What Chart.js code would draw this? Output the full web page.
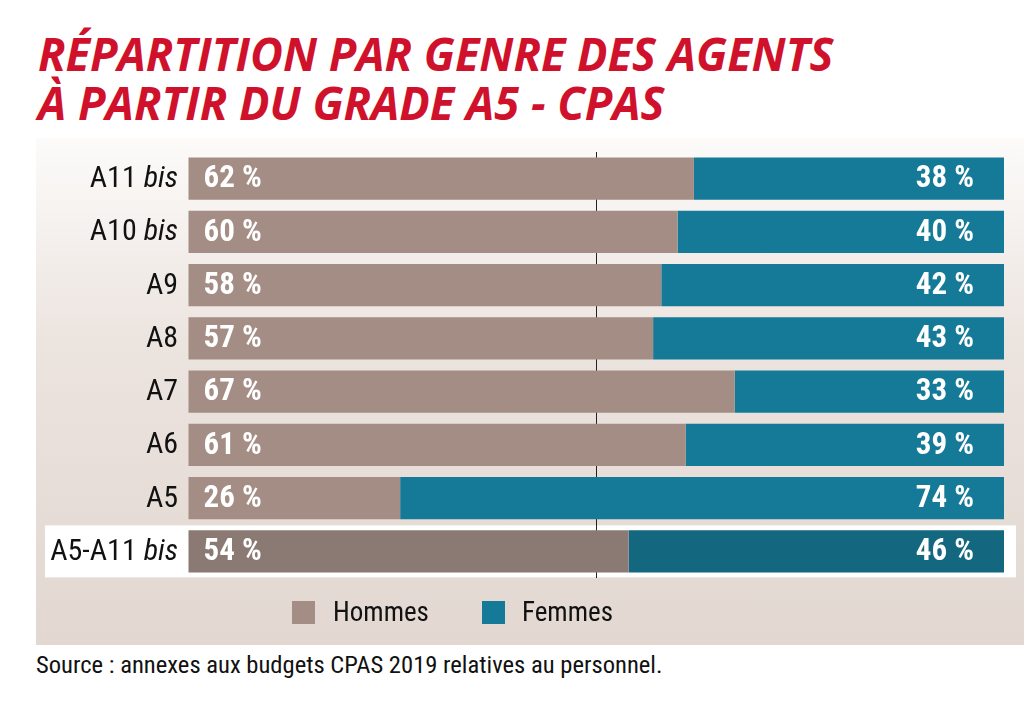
<!DOCTYPE html>
<html>
<head>
<meta charset="utf-8">
<script src="https://cdn.jsdelivr.net/npm/chart.js@4"></script>
<style>
  html, body { margin:0; padding:0; background:#fff; }
  body { width:1024px; height:725px; position:relative; overflow:hidden; }
  #title { position:absolute; left:38px; top:29px; color:#d0112b; font-family:'Open Sans', sans-serif; font-weight:bold; font-style:italic; font-size:47px; line-height:49px; transform:scaleX(0.96); transform-origin:left top; white-space:nowrap; }
  #panel { position:absolute; left:36px; top:138px; width:988px; height:507px; background:linear-gradient(#fcfbfa 0%, #ece4df 40%, #e2d7d1 100%); }
  #wrap { position:absolute; left:36px; top:138px; width:988px; height:507px; }
  .lg { position:absolute; font-family:'Liberation Sans Narrow','Roboto Condensed','Roboto',sans-serif; font-size:27px; color:#111; white-space:nowrap; }
  .sq { position:absolute; width:23px; height:23px; }
  #source { position:absolute; left:36px; top:650px; font-family:'Liberation Sans Narrow','Roboto Condensed','Roboto',sans-serif; font-size:24.6px; color:#111; white-space:nowrap; }
</style>
</head>
<body>
<div id="title">RÉPARTITION PAR GENRE DES AGENTS<br>À PARTIR DU GRADE A5 - CPAS</div>
<div id="panel"></div>
<div id="wrap"><canvas id="c" width="988" height="507"></canvas></div>
<div class="sq" style="left:292px;top:601px;background:#a38d84"></div>
<div class="lg" style="left:333px;top:596px">Hommes</div>
<div class="sq" style="left:482px;top:601px;background:#147a98"></div>
<div class="lg" style="left:522px;top:596px">Femmes</div>
<div id="source">Source : annexes aux budgets CPAS 2019 relatives au personnel.</div>
<script>
const categories = ['A11 bis','A10 bis','A9','A8','A7','A6','A5','A5-A11 bis'];
const hommes = [62,60,58,57,67,61,26,54];
const femmes = [38,40,42,43,33,39,74,46];
const seriesNames = ['Hommes','Femmes'];

const hColor = '#a38d84', hColorTotal = '#8b7a73';
const fColor = '#147a98', fColorTotal = '#13677f';
const last = categories.length - 1;

const labelFont = "'Liberation Sans Narrow','Roboto Condensed','Roboto',sans-serif";

const decor = {
  id:'decor',
  beforeDraw(chart){
    const ctx = chart.ctx, y = chart.scales.y;
    const yc = y.getPixelForValue(last);
    ctx.save();
    ctx.fillStyle = '#ffffff';
    ctx.fillRect(9, yc-26, 971, 52);
    ctx.restore();
  },
  afterDatasetsDraw(chart){
    const ctx = chart.ctx, y = chart.scales.y;
    ctx.save();
    ctx.textBaseline = 'middle';
    categories.forEach((cat, i) => {
      const yc = y.getPixelForValue(i) + 1;
      let xr = 142;
      ctx.fillStyle = '#111';
      ctx.textAlign = 'right';
      if (cat.endsWith(' bis')) {
        ctx.font = 'italic 30px ' + labelFont;
        ctx.fillText('bis', xr, yc);
        const w = ctx.measureText('bis').width;
        xr -= w + 7;
        ctx.font = '30px ' + labelFont;
        ctx.fillText(cat.slice(0, -4), xr, yc);
      } else {
        ctx.font = '30px ' + labelFont;
        ctx.fillText(cat, xr, yc);
      }
      const m0 = chart.getDatasetMeta(0).data[i];
      const m1 = chart.getDatasetMeta(1).data[i];
      ctx.fillStyle = '#fff';
      ctx.font = 'bold 31px ' + labelFont;
      ctx.textAlign = 'left';
      ctx.fillText(hommes[i] + ' %', m0.base + 15, yc);
      ctx.textAlign = 'right';
      ctx.fillText(femmes[i] + ' %', m1.x - 30, yc);
    });
    ctx.restore();
  }
};

new Chart(document.getElementById('c'), {
  type:'bar',
  data:{
    labels: categories,
    datasets:[
      { label: seriesNames[0], data: hommes, backgroundColor: hommes.map((v,i)=> i===last ? hColorTotal : hColor) },
      { label: seriesNames[1], data: femmes, backgroundColor: femmes.map((v,i)=> i===last ? fColorTotal : fColor) }
    ]
  },
  options:{
    indexAxis:'y',
    responsive:false,
    animation:false,
    devicePixelRatio:1,
    layout:{ padding:{ left:152, right:20, top:14, bottom:67 } },
    datasets:{ bar:{ barPercentage:0.79, categoryPercentage:1, borderWidth:0 } },
    plugins:{ legend:{ display:false }, tooltip:{ enabled:false } },
    scales:{
      x:{ stacked:true, min:0, max:100, ticks:{ display:false, stepSize:50 },
          border:{ display:false },
          grid:{ drawTicks:false, color: c => c.tick && c.tick.value === 50 ? '#222' : 'rgba(0,0,0,0)', lineWidth:1 },
          afterFit: s => { s.height = 0; } },
      y:{ stacked:true, display:false }
    }
  },
  plugins:[decor]
});
</script>
</body>
</html>
